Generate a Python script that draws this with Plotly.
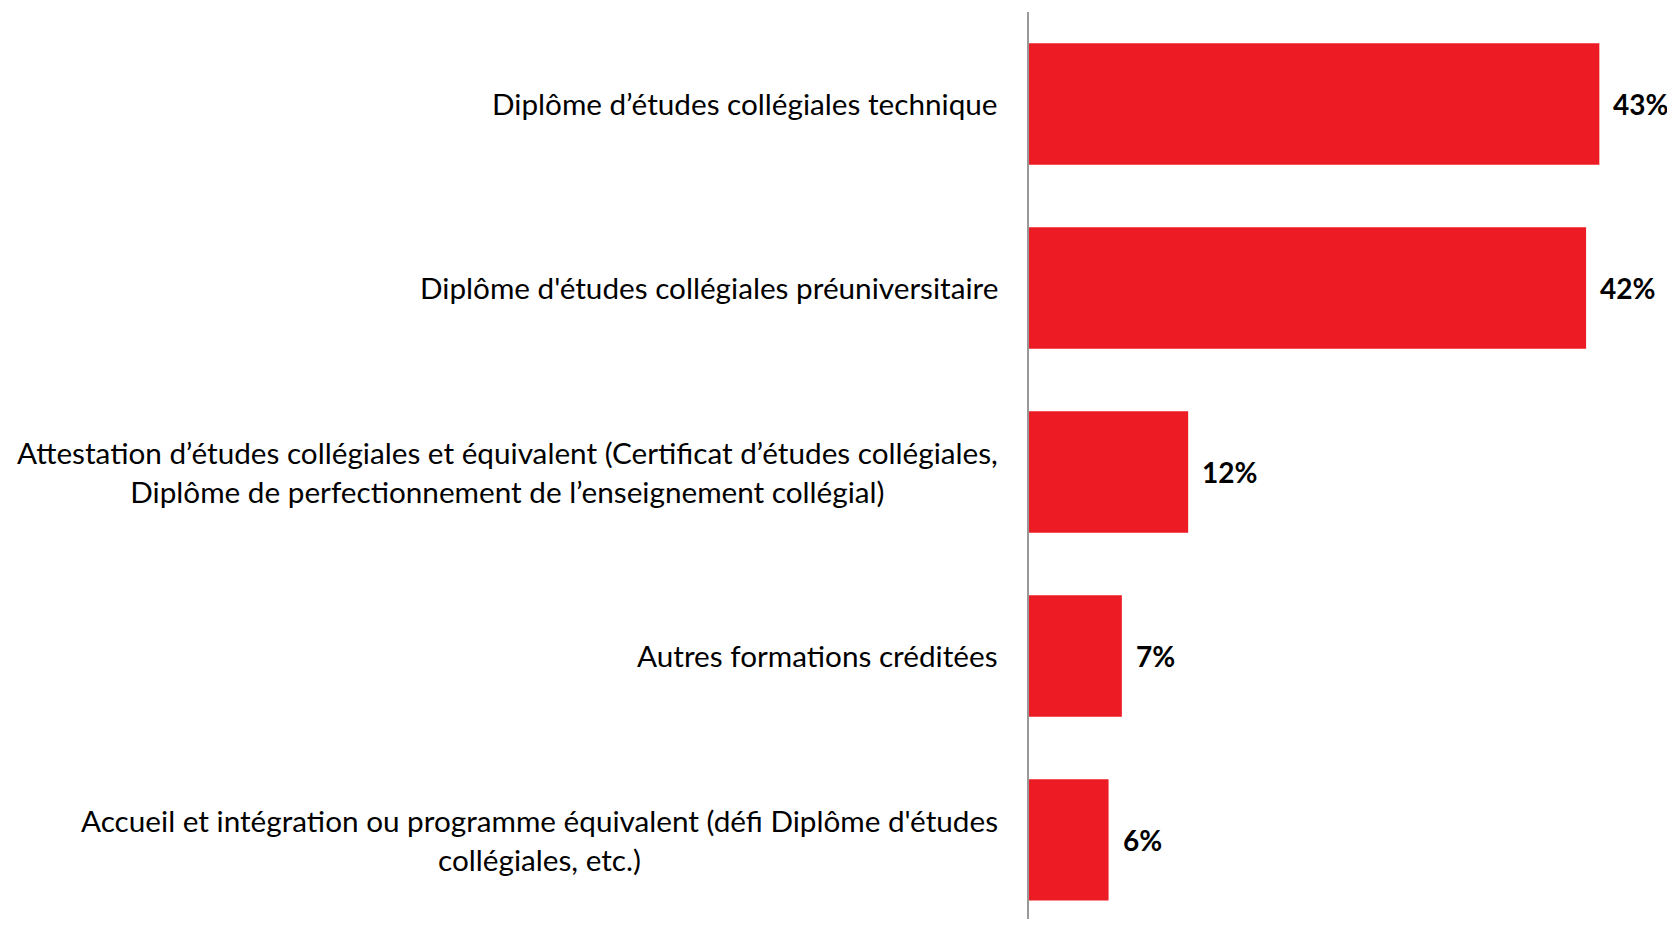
import plotly.graph_objects as go

categories = [
    "Diplôme d’études collégiales technique",
    "Diplôme d'études collégiales préuniversitaire",
    "Attestation d’études collégiales et équivalent (Certificat d’études collégiales,<br>Diplôme de perfectionnement de l’enseignement collégial)",
    "Autres formations créditées",
    "Accueil et intégration ou programme équivalent (défi Diplôme d'études<br>collégiales, etc.)",
]
values = [43, 42, 12, 7, 6]
value_labels = ["43%", "42%", "12%", "7%", "6%"]

RED = "#ED1C24"
FONT = "Lato"

fig = go.Figure()
fig.add_trace(go.Bar(
    x=values, y=categories, orientation="h",
    marker=dict(color=RED, line=dict(width=0)),
    hoverinfo="skip",
))
for v, c, t in zip(values, categories, value_labels):
    fig.add_annotation(x=v, y=c, text="<b>" + t + "</b>", showarrow=False,
                       xanchor="left", yanchor="middle", xshift=12,
                       font=dict(family=FONT, size=28, color="#000000"))
    # category label, centred multi-line text, right-aligned to the axis
    fig.add_annotation(x=0, xref="paper", y=c, text=c, showarrow=False,
                       xanchor="right", yanchor="middle", align="center",
                       xshift=-29,
                       font=dict(family=FONT, size=29.7, color="#000000"))

fig.update_layout(
    width=1659, height=911,
    margin=dict(l=1021, r=0, t=4, b=0),
    paper_bgcolor="white", plot_bgcolor="white",
    bargap=0.34, showlegend=False,
    font=dict(family=FONT, size=30, color="#000000"),
)
fig.update_xaxes(range=[0, 48.1], visible=False, showgrid=False, zeroline=False)
fig.update_yaxes(range=[4.43, -0.5], showline=True, linecolor="#999999", linewidth=2,
                 showgrid=False, zeroline=False, ticks="", showticklabels=False)

fig.write_html("out.html")
